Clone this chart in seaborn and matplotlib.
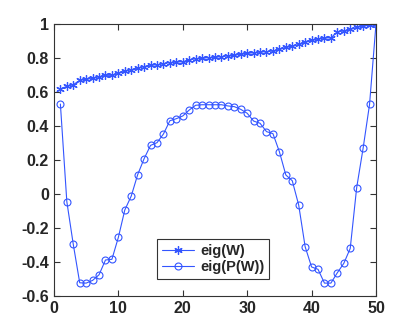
import matplotlib
matplotlib.use("Agg")
import matplotlib.pyplot as plt
from matplotlib.ticker import FuncFormatter
import numpy as np
import pandas as pd
import seaborn as sns

# eigenvalues
idx = list(range(1, 51))

eig_w = [0.618, 0.633, 0.643, 0.669, 0.675, 0.680, 0.690, 0.698, 0.698, 0.710,
         0.724, 0.731, 0.741, 0.749, 0.759, 0.759, 0.767, 0.773, 0.776, 0.778,
         0.788, 0.796, 0.798, 0.802, 0.804, 0.808, 0.812, 0.816, 0.822, 0.827,
         0.831, 0.835, 0.837, 0.841, 0.851, 0.863, 0.869, 0.880, 0.896, 0.904,
         0.912, 0.918, 0.918, 0.953, 0.959, 0.969, 0.980, 0.988, 0.992, 1.000]

eig_pw = [0.529, -0.045, -0.296, -0.522, -0.524, -0.508, -0.475, -0.388, -0.384, -0.255,
          -0.094, -0.012, 0.114, 0.208, 0.286, 0.302, 0.353, 0.431, 0.443, 0.459,
          0.494, 0.522, 0.525, 0.525, 0.525, 0.525, 0.518, 0.514, 0.498, 0.475,
          0.429, 0.416, 0.367, 0.355, 0.249, 0.112, 0.078, -0.065, -0.310, -0.429,
          -0.443, -0.524, -0.524, -0.463, -0.408, -0.320, 0.037, 0.269, 0.527, 1.000]

df = pd.DataFrame({"i": idx, "eig(W)": eig_w, "eig(P(W))": eig_pw})

sns.set_style("ticks")
plt.rcParams["font.family"] = ["Liberation Sans", "DejaVu Sans"]

fig = plt.figure(figsize=(4.15, 3.33), dpi=100)
ax = fig.add_axes([0.130, 0.111, 0.776, 0.817])

blue = "#3355ff"
# matlab-like asterisk: 6 thin arms
sns.lineplot(data=df, x="i", y="eig(W)", ax=ax, color=blue, lw=0.8,
             marker=(6, 2, 0), ms=6, mec=blue, mew=0.9, label="eig(W)")
sns.lineplot(data=df, x="i", y="eig(P(W))", ax=ax, color=blue, lw=0.8,
             marker="o", ms=5, mec=blue, mfc="none", mew=0.8, label="eig(P(W))")

ax.set_xlim(0, 50)
ax.set_ylim(-0.6, 1)
ax.set_xticks(np.arange(0, 51, 10))
ax.set_yticks(np.arange(-0.6, 1.01, 0.2))
ax.yaxis.set_major_formatter(FuncFormatter(lambda v, p: "%g" % round(v, 1)))
ax.set_xlabel("")
ax.set_ylabel("")

for s in ax.spines.values():
    s.set_visible(True)
    s.set_color("#333333")
    s.set_linewidth(0.8)
ax.tick_params(direction="in", length=4, width=0.8, color="#333333",
               top=True, right=True, labelsize=11.5)
for lab in ax.get_xticklabels() + ax.get_yticklabels():
    lab.set_fontweight("bold")

leg = ax.legend(loc="lower left", bbox_to_anchor=(0.32, 0.062), fancybox=False,
                framealpha=1, edgecolor="#333333", borderpad=0.35, labelspacing=0.15,
                handlelength=2.2, handletextpad=0.4, borderaxespad=0,
                prop={"weight": "bold", "size": 10.5})
leg.get_frame().set_linewidth(0.8)

fig.savefig("out.png", dpi=100)
